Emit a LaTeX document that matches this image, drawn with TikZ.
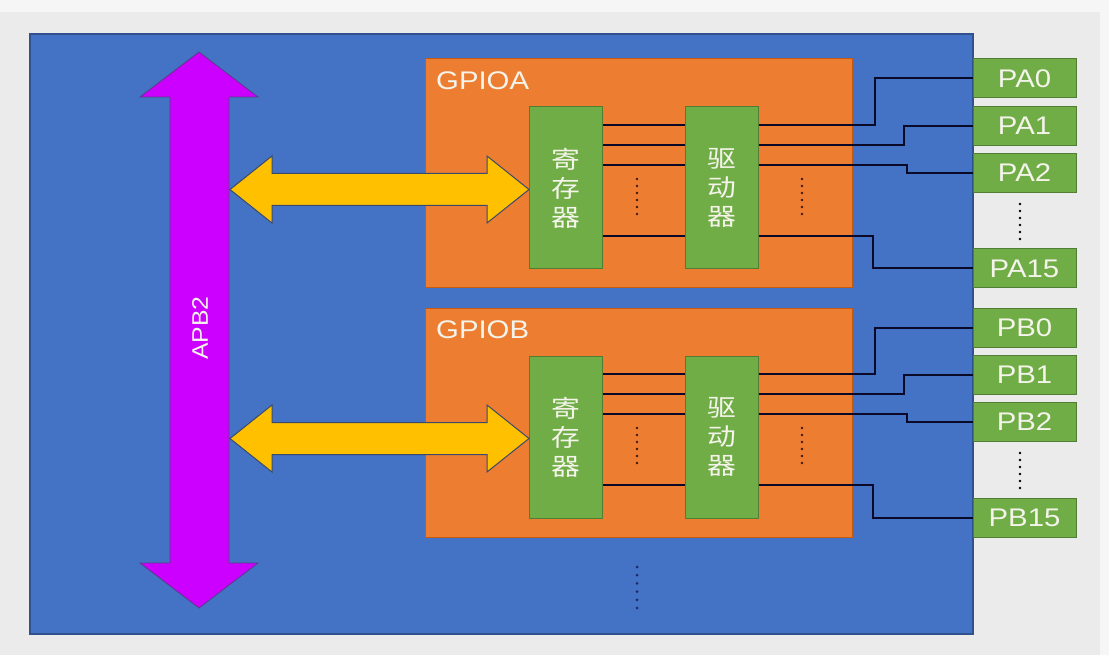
\documentclass[tikz,border=0pt]{standalone}
\usepackage{fontspec}
\setmainfont[FakeStretch=1.15]{Liberation Sans}
\newfontfamily\plainsans[FakeStretch=1.1]{Liberation Sans}
\newfontfamily\cjk[FakeStretch=1.2]{Noto Sans CJK SC}
\usetikzlibrary{calc}
\definecolor{bggray}{HTML}{EBEBEB}
\definecolor{bgtop}{HTML}{F6F6F6}
\definecolor{blueF}{HTML}{4472C4}
\definecolor{blueB}{HTML}{2F528F}
\definecolor{orangeF}{HTML}{ED7D31}
\definecolor{orangeB}{HTML}{C55A11}
\definecolor{greenF}{HTML}{70AD47}
\definecolor{greenB}{HTML}{507E32}
\definecolor{magF}{HTML}{CC00FF}
\definecolor{magB}{HTML}{5A3A8A}
\definecolor{yelF}{HTML}{FFC000}
\definecolor{yelB}{HTML}{3A4A6A}
\definecolor{wirec}{HTML}{0A0A28}
\definecolor{txt}{HTML}{F4F4EA}
\definecolor{dotdark}{HTML}{3A1A10}
\definecolor{dotblue}{HTML}{1A2A6A}
\begin{document}
\begin{tikzpicture}[x=1pt,y=-1pt,
  gpiobox/.style={draw=orangeB, fill=orangeF, line width=1pt, minimum width=427, minimum height=229, inner sep=0},
  unitbox/.style={draw=greenB, fill=greenF, line width=1pt, minimum width=73, minimum height=162, inner sep=0,
     text=txt, align=center, font=\cjk\fontsize{24}{29}\selectfont},
  pinbox/.style={draw=greenB, fill=greenF, line width=1pt, minimum width=103, minimum height=39, inner sep=0,
     text=txt, font=\fontsize{25.5}{28}\selectfont},
  gpiolabel/.style={text=txt, font=\fontsize{25.5}{30}\selectfont, anchor=west, inner sep=0},
  wire/.style={draw=wirec, line width=2pt},
  dotA/.style={fill=dotdark},
  dotP/.style={fill=black},
  dotB/.style={fill=dotblue}
]
\useasboundingbox (0,0) rectangle (1109,655);
% background
\fill[bggray] (0,0) rectangle (1109,655);
\fill[bgtop] (0,0) rectangle (1109,12);
\fill[bgtop] (1100,0) rectangle (1109,655);
% main blue chip
\node[draw=blueB, fill=blueF, line width=1.2pt, minimum width=943, minimum height=600, inner sep=0] (chip) at (501.5,334) {};
% APB2 bus
\filldraw[fill=magF, draw=magB, line width=0.8pt]
  (199,52) -- (258,97) -- (229,97) -- (229,563) -- (258,563) -- (199,608)
  -- (140,563) -- (170,563) -- (170,97) -- (140,97) -- cycle;
\node[rotate=90, text=txt, font=\plainsans\fontsize{22.5}{26}\selectfont] (apb) at (200,328) {APB2};

\foreach \o/\L in {0/A,249/B}{
  \node[gpiobox] (g\L) at (638.5,173.5+\o) {};
  \node[gpiolabel] (lab\L) at (436,81+\o) {GPIO\L};
  \node[unitbox] (reg\L) at (566,188+\o) {寄\\存\\器};
  \node[unitbox] (drv\L) at (721.5,188+\o) {驱\\动\\器};
  % yellow bus arrow
  \filldraw[fill=yelF, draw=yelB, line width=1pt]
    (230,189.5+\o) -- (272,156+\o) -- (272,173.5+\o) -- (487,173.5+\o) -- (487,156+\o)
    -- (reg\L.west |- 0,189.5+\o) -- (487,223+\o) -- (487,205.5+\o) -- (272,205.5+\o)
    -- (272,223+\o) -- cycle;
  % pins
  \node[pinbox] (p\L0) at (1024.5,78.5+\o) {P\L0};
  \node[pinbox] (p\L1) at (1024.5,126+\o) {P\L1};
  \node[pinbox] (p\L2) at (1024.5,173+\o) {P\L2};
  \node[pinbox] (p\L15) at (1024.5,268.5+\o) {P\L15};
  % register -> driver wires
  \foreach \y in {125,145,165,236}{
    \draw[wire] (reg\L.east |- 0,\y+\o) -- (drv\L.west |- 0,\y+\o);
  }
  % driver -> pin wires
  \draw[wire] (drv\L.east |- 0,125+\o) -| (875,78.5+\o) -- (p\L0.west);
  \draw[wire] (drv\L.east |- 0,145+\o) -| (904,126+\o) -- (p\L1.west);
  \draw[wire] (drv\L.east |- 0,165+\o) -| (907,173+\o) -- (p\L2.west);
  \draw[wire] (drv\L.east |- 0,236+\o) -| (873,268.5+\o) -- (p\L15.west);
  % dots
  \foreach \k in {0,...,5}{
    \fill[dotA] (637,179+7*\k+\o) circle (1.3);
    \fill[dotA] (802,179+7*\k+\o) circle (1.3);
    \fill[dotP] (1020,204+7*\k+\o) circle (1.4);
  }
}
% bottom continuation dots
\foreach \k in {0,...,5}{
  \fill[dotB] (637,567+8.2*\k) circle (1.5);
}
\end{tikzpicture}
\end{document}
